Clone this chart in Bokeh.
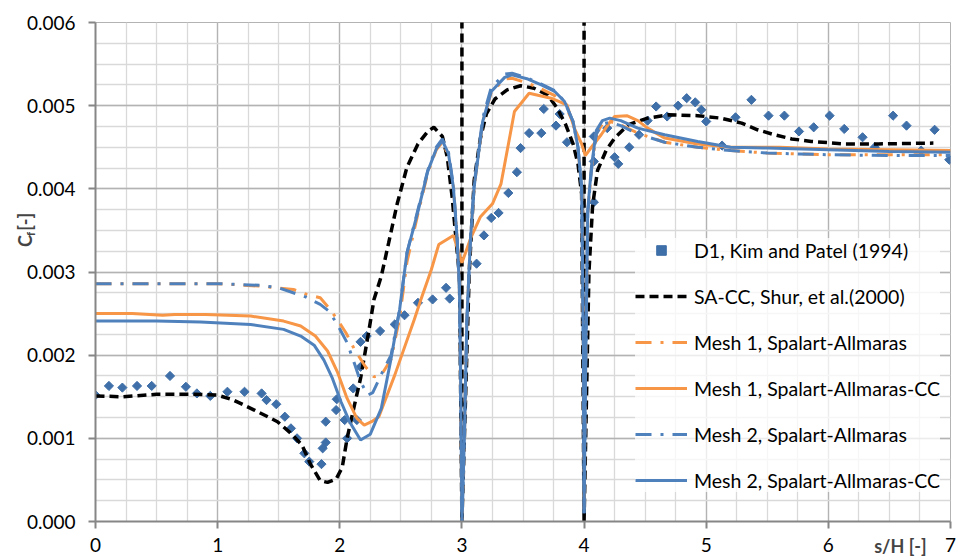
import math
from bokeh.plotting import figure
from bokeh.models import (Range1d, FixedTicker, PrintfTickFormatter, Legend,
                          LegendItem, Label)
from bokeh.embed import file_html
from bokeh.resources import INLINE

NaN = float("nan")

# ---------------- data ----------------
x_ticks = [0, 1, 2, 3, 4, 5, 6, 7]
x_minor = [i * 0.25 for i in range(29)]
y_ticks = [0.0, 0.001, 0.002, 0.003, 0.004, 0.005, 0.006]
y_minor = [i * 0.00025 for i in range(25)]

# D1, Kim and Patel (1994) - experiment
d1_x = [0.00, 0.11, 0.22, 0.34, 0.46, 0.61, 0.74, 0.83, 0.94, 1.08, 1.22, 1.36,
        1.40, 1.48, 1.55, 1.60, 1.65, 1.71, 1.75, 1.85, 1.86, 1.885, 1.885, 1.97,
        1.975, 2.04, 2.06, 2.11, 2.14, 2.17, 2.17, 2.22, 2.33, 2.45, 2.53, 2.64,
        2.76, 2.87, 2.90, 3.12, 3.18, 3.24, 3.30, 3.38, 3.45, 3.48, 3.55, 3.65,
        3.67, 3.77, 3.80, 3.86, 4.08, 4.08, 4.08, 4.19, 4.25, 4.28, 4.37, 4.45,
        4.52, 4.59, 4.68, 4.77, 4.84, 4.91, 4.96, 5.00, 5.13, 5.24, 5.37, 5.51,
        5.64, 5.76, 5.88, 6.01, 6.13, 6.28, 6.38, 6.53, 6.64, 6.76, 6.87, 6.99]
d1_cf = [0.00152, 0.00163, 0.00161, 0.00163, 0.00163, 0.00175, 0.00162, 0.00154,
         0.00151, 0.00156, 0.00156, 0.00154, 0.00146, 0.00141, 0.00126, 0.00112,
         0.00100, 0.00082, 0.00072, 0.00069, 0.00088, 0.00095, 0.00120, 0.00134,
         0.00147, 0.00122, 0.00100, 0.00160, 0.00122, 0.00186, 0.00216, 0.00223,
         0.00229, 0.00237, 0.00248, 0.00263, 0.00267, 0.00281, 0.00268, 0.00310,
         0.00344, 0.00365, 0.00371, 0.00395, 0.00420, 0.00449, 0.00467, 0.00467,
         0.00496, 0.00476, 0.00490, 0.00456, 0.00384, 0.00433, 0.00463, 0.00473,
         0.00438, 0.00430, 0.00450, 0.00465, 0.00482, 0.00499, 0.00487, 0.00500,
         0.00509, 0.00504, 0.00495, 0.00481, 0.00452, 0.00486, 0.00507, 0.00488,
         0.00488, 0.00469, 0.00474, 0.00488, 0.00472, 0.00462, 0.00450, 0.00488,
         0.00476, 0.00446, 0.00471, 0.00435]

# SA-CC, Shur et al. (2000)
shur_x = [0.00, 0.22, 0.50, 0.80, 1.00, 1.13, 1.30, 1.49, 1.60, 1.69, 1.76, 1.84,
          1.90, 1.97, 2.02, 2.06, 2.12, 2.17, 2.24, 2.28, 2.34, 2.40, 2.47, 2.55,
          2.64, 2.72, 2.77, 2.84, 2.88, 2.92, 2.95, 2.98, 3.00, 3.00, NaN, 3.00,
          3.03, 3.06, 3.10, 3.15, 3.20, 3.27, 3.37, 3.48, 3.59, 3.70, 3.78, 3.85,
          3.91, 3.95, 3.98, 4.00, 4.00, NaN, 4.00, 4.02, 4.04, 4.07, 4.11, 4.18,
          4.25, 4.36, 4.52, 4.69, 4.93, 5.12, 5.29, 5.42, 5.56, 5.70, 5.86, 6.13,
          6.41, 6.86]
shur_cf = [0.00151, 0.00150, 0.00153, 0.00153, 0.00152, 0.00146, 0.00134, 0.00120,
           0.00106, 0.00092, 0.00069, 0.00049, 0.00047, 0.00051, 0.00065, 0.00100,
           0.00140, 0.00172, 0.00231, 0.00267, 0.00295, 0.00335, 0.00382, 0.00426,
           0.00454, 0.00469, 0.00474, 0.00463, 0.00438, 0.00390, 0.00342, 0.00295,
           0.00000, 0.00650, NaN, 0.00000,
           0.00150, 0.00300, 0.00410, 0.00460, 0.00490, 0.00508, 0.00519, 0.00524,
           0.00521, 0.00513, 0.00497, 0.00477, 0.00454, 0.00430, 0.00394,
           0.00000, 0.00650, NaN, 0.00000,
           0.00150, 0.00300, 0.00380, 0.00422, 0.00446, 0.00461, 0.00477, 0.00485,
           0.00489, 0.00488, 0.00485, 0.00479, 0.00471, 0.00465, 0.00460, 0.00457,
           0.00454, 0.00454, 0.00455]

# Mesh 1, Spalart-Allmaras
m1sa_x = [0.00, 0.50, 1.00, 1.35, 1.62, 1.73, 1.84, 1.91, 1.98, 2.05, 2.12, 2.21,
          2.28, 2.34, 2.42, 2.49, 2.55, 2.64, 2.72, 2.79, 2.84, 2.89, 2.93, 2.96,
          2.98, 3.00, 3.02, 3.04, 3.07, 3.10, 3.17, 3.24, 3.35, 3.41, 3.54, 3.65,
          3.76, 3.84, 3.91, 3.95, 3.98, 3.995, 4.00, 4.01, 4.03, 4.06, 4.10, 4.15,
          4.21, 4.30, 4.44, 4.66, 4.93, 5.20, 5.50, 6.00, 6.50, 7.00]
m1sa_cf = [0.00286, 0.00286, 0.00286, 0.00283, 0.00279, 0.00273, 0.00269, 0.00257,
           0.00243, 0.00227, 0.00207, 0.00186, 0.00174, 0.00176, 0.00195, 0.00245,
           0.00312, 0.00370, 0.00419, 0.00447, 0.00456, 0.00440, 0.00402, 0.00342,
           0.00280, 0.00000, 0.00100, 0.00240, 0.00340, 0.00402, 0.00480, 0.00516,
           0.00532, 0.00533, 0.00527, 0.00520, 0.00512, 0.00502, 0.00480, 0.00450,
           0.00402, 0.00200, 0.00010, 0.00150, 0.00370, 0.00424, 0.00466, 0.00478,
           0.00481, 0.00477, 0.00467, 0.00456, 0.00450, 0.00446, 0.00443, 0.00441,
           0.00441, 0.00441]

# Mesh 1, Spalart-Allmaras-CC
m1cc_x = [0.00, 0.30, 0.55, 0.65, 0.90, 1.27, 1.54, 1.68, 1.80, 1.90, 1.98, 2.06,
          2.14, 2.20, 2.26, 2.32, 2.45, 2.61, 2.66, 2.75, 2.81, 2.93, 3.00, 3.07,
          3.15, 3.25, 3.32, 3.43, 3.55, 3.73, 3.86, 3.92, 3.98, 4.01, 4.06, 4.14,
          4.21, 4.25, 4.35, 4.44, 4.52, 4.66, 4.93, 5.20, 5.60, 6.00, 6.50, 7.00]
m1cc_cf = [0.00250, 0.00250, 0.00248, 0.00249, 0.00249, 0.00247, 0.00241, 0.00235,
           0.00223, 0.00205, 0.00180, 0.00148, 0.00124, 0.00116, 0.00120, 0.00126,
           0.00176, 0.00243, 0.00265, 0.00303, 0.00333, 0.00344, 0.00311, 0.00340,
           0.00366, 0.00382, 0.00406, 0.00493, 0.00515, 0.00509, 0.00501, 0.00473,
           0.00454, 0.00440, 0.00450, 0.00465, 0.00480, 0.00487, 0.00488, 0.00482,
           0.00473, 0.00461, 0.00454, 0.00450, 0.00450, 0.00448, 0.00447, 0.00446]

# Mesh 2, Spalart-Allmaras
m2sa_x = [0.00, 0.50, 1.00, 1.35, 1.50, 1.72, 1.84, 1.91, 1.98, 2.06, 2.12, 2.17,
          2.23, 2.27, 2.35, 2.42, 2.49, 2.55, 2.64, 2.72, 2.79, 2.84, 2.89, 2.93,
          2.96, 2.98, 3.00, 3.02, 3.04, 3.07, 3.10, 3.17, 3.24, 3.35, 3.41, 3.54,
          3.65, 3.76, 3.84, 3.91, 3.95, 3.98, 3.995, 4.00, 4.01, 4.03, 4.06, 4.10,
          4.15, 4.21, 4.30, 4.44, 4.66, 4.93, 5.20, 5.50, 6.00, 6.50, 7.00]
m2sa_cf = [0.00286, 0.00286, 0.00286, 0.00284, 0.00281, 0.00270, 0.00261, 0.00253,
           0.00237, 0.00215, 0.00190, 0.00168, 0.00152, 0.00155, 0.00180, 0.00200,
           0.00255, 0.00323, 0.00375, 0.00422, 0.00450, 0.00460, 0.00444, 0.00404,
           0.00344, 0.00280, 0.00000, 0.00100, 0.00240, 0.00340, 0.00405, 0.00485,
           0.00522, 0.00538, 0.00539, 0.00533, 0.00526, 0.00518, 0.00505, 0.00481,
           0.00450, 0.00402, 0.00200, 0.00010, 0.00150, 0.00370, 0.00422, 0.00466,
           0.00478, 0.00480, 0.00476, 0.00466, 0.00456, 0.00450, 0.00446, 0.00443,
           0.00441, 0.00440, 0.00440]

# Mesh 2, Spalart-Allmaras-CC
m2cc_x = [0.00, 0.50, 0.86, 1.27, 1.54, 1.68, 1.79, 1.87, 1.94, 2.01, 2.08, 2.17,
          2.25, 2.34, 2.42, 2.49, 2.55, 2.64, 2.72, 2.79, 2.84, 2.89, 2.93, 2.96,
          2.98, 2.99, 3.00, 3.02, 3.04, 3.07, 3.10, 3.17, 3.24, 3.35, 3.41, 3.54,
          3.65, 3.76, 3.84, 3.91, 3.95, 3.98, 3.995, 4.00, 4.01, 4.03, 4.06, 4.10,
          4.15, 4.21, 4.30, 4.44, 4.66, 4.93, 5.20, 5.50, 6.00, 6.50, 7.00]
m2cc_cf = [0.00241, 0.00241, 0.00240, 0.00237, 0.00231, 0.00223, 0.00212, 0.00194,
           0.00172, 0.00144, 0.00120, 0.00098, 0.00105, 0.00136, 0.00196, 0.00255,
           0.00323, 0.00373, 0.00421, 0.00448, 0.00458, 0.00442, 0.00402, 0.00342,
           0.00279, 0.00160, 0.00000, 0.00100, 0.00240, 0.00340, 0.00402, 0.00481,
           0.00517, 0.00534, 0.00537, 0.00532, 0.00525, 0.00517, 0.00505, 0.00481,
           0.00450, 0.00402, 0.00200, 0.00010, 0.00150, 0.00374, 0.00426, 0.00470,
           0.00482, 0.00485, 0.00482, 0.00473, 0.00465, 0.00457, 0.00450, 0.00449,
           0.00447, 0.00445, 0.00444]

legend_labels = ["D1, Kim and Patel (1994)", "SA-CC, Shur, et al.(2000)",
                 "Mesh 1, Spalart-Allmaras", "Mesh 1, Spalart-Allmaras-CC",
                 "Mesh 2, Spalart-Allmaras", "Mesh 2, Spalart-Allmaras-CC"]

# ---------------- styles ----------------
BLUE = "#4f81bd"
ORANGE = "#f79646"
MARKER = "#3f6fa8"
FONT = "Lato"

p = figure(width=958, height=560,
           min_border_left=95, min_border_right=8, min_border_top=17,
           min_border_bottom=39,
           x_range=Range1d(0, 7), y_range=Range1d(0, 0.006),
           output_backend="svg", toolbar_location=None)
p.background_fill_color = "white"
p.border_fill_color = "white"
p.outline_line_color = "#b3b3b3"

p.xaxis.ticker = FixedTicker(ticks=x_ticks, minor_ticks=x_minor)
p.yaxis.ticker = FixedTicker(ticks=y_ticks, minor_ticks=y_minor)
p.yaxis.formatter = PrintfTickFormatter(format="%.3f")

for ax in (p.xaxis, p.yaxis):
    ax.axis_line_color = "#868686"
    ax.axis_line_width = 2
    ax.major_tick_line_color = "#868686"
    ax.major_tick_line_width = 2
    ax.major_tick_out = 7
    ax.major_tick_in = 0
    ax.minor_tick_line_color = None
    ax.minor_tick_out = 0
    ax.major_label_text_font = FONT
    ax.major_label_text_font_size = "19px"
    ax.major_label_text_color = "#000000"
p.yaxis.major_label_standoff = 13
p.xaxis.major_label_standoff = 9

for g in (p.xgrid, p.ygrid):
    g.grid_line_color = "#b3b3b3"
    g.grid_line_width = 1.3
    g.minor_grid_line_color = "#d9d9d9"
    g.minor_grid_line_width = 1.3

r_d1 = p.scatter(d1_x, d1_cf, marker="square", angle=math.pi / 4, size=6.5,
                 fill_color=MARKER, line_color=MARKER)
r_shur = p.line(shur_x, shur_cf, line_color="black", line_width=3.5,
                line_dash="9 5")
r_m1sa = p.line(m1sa_x, m1sa_cf, line_color=ORANGE, line_width=3,
                line_dash="16 9 3 9")
r_m1cc = p.line(m1cc_x, m1cc_cf, line_color=ORANGE, line_width=3)
r_m2sa = p.line(m2sa_x, m2sa_cf, line_color=BLUE, line_width=3,
                line_dash="16 9 3 9")
r_m2cc = p.line(m2cc_x, m2cc_cf, line_color=BLUE, line_width=3)

rends = [r_d1, r_shur, r_m1sa, r_m1cc, r_m2sa, r_m2cc]
legend = Legend(items=[LegendItem(label=l, renderers=[r])
                       for l, r in zip(legend_labels, rends)],
                location=(540, 29), orientation="vertical",
                glyph_width=52, glyph_height=24, label_height=24,
                label_standoff=7, spacing=22, padding=14, margin=0,
                label_text_font=FONT, label_text_font_size="19.5px",
                label_text_color="black",
                background_fill_color="white", background_fill_alpha=0.75,
                border_line_color=None)
p.add_layout(legend)

# axis titles (side panels, so that they are not clipped to the frame)
p.add_layout(Label(x=0, y=0.0033, x_offset=-71, text="C  [-]",
                   angle=math.pi / 2, text_align="left",
                   text_baseline="middle", text_font=FONT,
                   text_font_style="bold", text_font_size="18px"), "left")
p.add_layout(Label(x=0, y=0.00343, x_offset=-65, text="f", angle=math.pi / 2,
                   text_align="left", text_baseline="middle",
                   text_font=FONT, text_font_style="bold",
                   text_font_size="12px"), "below")
p.add_layout(Label(x=6.59, y=0, y_offset=-24, text="s/H [-]",
                   text_align="center", text_baseline="middle",
                   text_font=FONT, text_font_style="bold",
                   text_font_size="18px"), "above")

open("out.html", "w").write(file_html(p, INLINE))
